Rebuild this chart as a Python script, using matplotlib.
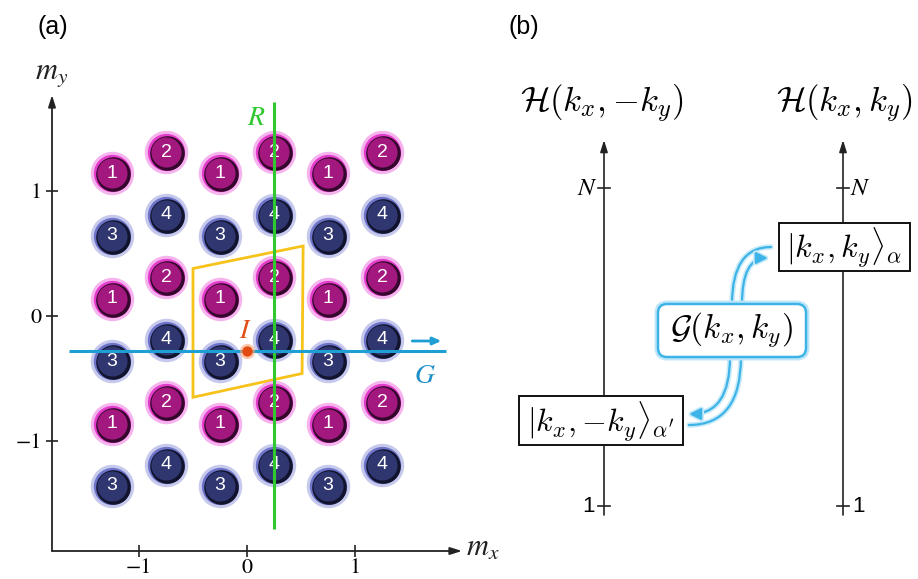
import matplotlib
matplotlib.use('Agg')
import matplotlib.pyplot as plt
from matplotlib.patches import Polygon, FancyBboxPatch, Rectangle, FancyArrowPatch
from matplotlib.transforms import offset_copy
import matplotlib.patheffects as pe

# ---------------- Panel (a) data ----------------
site_labels = ['1', '2', '3', '4']
site_x = [-0.25, 0.25, -0.25, 0.25]
site_y = [0.14, 0.31, -0.36, -0.19]
site_kind = ['m', 'm', 'b', 'b']
cell_shift_x = [-1, 0, 1]
cell_shift_y = [-1, 0, 1]
ticks_a = [-1, 0, 1]
tick_labels_a = ['\u22121', '0', '1']
unit_cell_x = [-0.5, 0.52, 0.51, -0.5]
unit_cell_y = [0.38, 0.56, -0.46, -0.65]
mirror_x = 0.25
mirror_y_range = [-1.70, 1.71]
glide_y = -0.28
glide_x_range = [-1.65, 1.84]
glide_arrow_x = [1.53, 1.80]
glide_arrow_y = -0.20
inv_point = [0.0, -0.28]

# ---------------- Panel (b) texts ----------------
title_left = r'$\mathcal{H}(k_x,{-}k_y)$'
title_right = r'$\mathcal{H}(k_x,k_y)$'
state_right = r'$|k_x,k_y\rangle_{\alpha}$'
state_left = r"$|k_x,{-}k_y\rangle_{\alpha'}$"
op_label = r'$\mathcal{G}(k_x,k_y)$'
level_labels = ['N', '1']

W, H = 918, 579
fig = plt.figure(figsize=(W / 100, H / 100), dpi=100)

# ---- axes (a) placement in pixels
px0, px1 = 52, 470
py0, py1 = 551, 80
x0_px, xs = 247, 108.0
y0_px, ys = 316, 125.0
ax = fig.add_axes([px0 / W, (H - py0) / H, (px1 - px0) / W, (py0 - py1) / H])
ax.set_xlim((px0 - x0_px) / xs, (px1 - x0_px) / xs)
ax.set_ylim((y0_px - py0) / ys, (y0_px - py1) / ys)
for s in ax.spines.values():
    s.set_visible(False)
ax.patch.set_alpha(0)
ax.set_xticks(ticks_a)
ax.set_yticks(ticks_a)
ax.set_xticklabels(tick_labels_a, fontfamily='STIXGeneral', fontsize=16)
ax.set_yticklabels(tick_labels_a, fontfamily='STIXGeneral', fontsize=16)
ax.tick_params(direction='inout', length=9, width=1.2, color='#222222', pad=3)
ax.tick_params(axis='x', pad=0.5)

# axis arrows
arrow_kw = dict(arrowstyle='-|>,head_length=0.7,head_width=0.22', lw=1.3, color='#222222',
                shrinkA=0, shrinkB=0)
ax.annotate('', xy=(0, (py0 - 95) / (py0 - py1)), xytext=(0, 0), xycoords='axes fraction',
            arrowprops=arrow_kw)
ax.annotate('', xy=((462 - px0) / (px1 - px0), 0), xytext=(0, 0), xycoords='axes fraction',
            arrowprops=arrow_kw)
ax.text(0, (py0 - 74) / (py0 - py1), r'$m_y$', transform=ax.transAxes, ha='center', va='center',
        fontsize=22, math_fontfamily='stix', color='#222222')
fig.text(483 / W, 1 - 548 / H, r'$m_x$', ha='center', va='center', fontsize=22,
         math_fontfamily='stix', color='#222222')

# unit cell (yellow)
ax.add_patch(Polygon(list(zip(unit_cell_x, unit_cell_y)), closed=True, fill=False,
                     edgecolor='#f7c31a', lw=2.0, zorder=1))

# lattice sites
styles = {
    'm': dict(glow='#f49be9', rim='#e43ccb', dark='#34072c', body='#a3187f'),
    'b': dict(glow='#b3b8e6', rim='#6c73c9', dark='#12142e', body='#2f3670'),
}
dark_trans = offset_copy(ax.transData, fig=fig, x=1.0, y=-1.0, units='dots')
for lab, sx, sy, kind in zip(site_labels, site_x, site_y, site_kind):
    xs_ = [sx + cx for cx in cell_shift_x for cy in cell_shift_y]
    ys_ = [sy + cy for cx in cell_shift_x for cy in cell_shift_y]
    st = styles[kind]
    ax.scatter(xs_, ys_, s=980, c=st['glow'], alpha=0.75, lw=0, zorder=2)
    ax.scatter(xs_, ys_, s=720, c=st['rim'], lw=0, zorder=3)
    ax.scatter(xs_, ys_, s=620, c=st['dark'], lw=0, zorder=4, transform=dark_trans)
    ax.scatter(xs_, ys_, s=470, c=st['body'], lw=0, zorder=5)
    for x, y in zip(xs_, ys_):
        ax.text(x, y, lab, ha='center', va='center', color='white', fontsize=14,
                fontfamily='Liberation Sans', zorder=6)

# mirror line R (green)
ax.plot([mirror_x, mirror_x], mirror_y_range, color='#2fc82f', lw=2.2, zorder=7,
        solid_capstyle='butt')
ax.text(0.09, 1.59, r'$R$', color='#2fc82f', fontsize=20, math_fontfamily='stix',
        ha='center', va='center', zorder=7)
# glide line G (blue)
ax.plot(glide_x_range, [glide_y, glide_y], color='#1e9fd4', lw=2.2, zorder=7,
        solid_capstyle='butt')
ax.annotate('', xy=(glide_arrow_x[1], glide_arrow_y), xytext=(glide_arrow_x[0], glide_arrow_y),
            arrowprops=dict(arrowstyle='-|>,head_length=0.5,head_width=0.22', lw=2.0,
                            color='#1e9fd4', shrinkA=0, shrinkB=0), zorder=7)
ax.text(1.65, -0.47, r'$G$', color='#1e8fc8', fontsize=20, math_fontfamily='stix',
        ha='center', va='center', zorder=7)
# inversion point I
ax.scatter([inv_point[0]], [inv_point[1]], s=120, c='#f9a070', alpha=0.6, lw=0, zorder=8)
ax.scatter([inv_point[0]], [inv_point[1]], s=55, c='#e24a12', lw=0, zorder=9)
ax.text(-0.01, -0.11, r'$I$', color='#e2501a', fontsize=20, math_fontfamily='stix',
        ha='center', va='center', zorder=9)

fig.text(53 / W, 1 - 27 / H, '(a)', fontsize=18, fontfamily='Liberation Sans', ha='center',
         va='center')
fig.text(524 / W, 1 - 27 / H, '(b)', fontsize=18, fontfamily='Liberation Sans', ha='center',
         va='center')

# ---------------- Panel (b) ----------------
bx = fig.add_axes([0, 0, 1, 1])
bx.set_xlim(0, W)
bx.set_ylim(H, 0)
bx.axis('off')
bx.patch.set_alpha(0)

axis_x = [604, 843]
axis_bottom, axis_top = 515, 140
tick_y = [188, 506]
for i, xa in enumerate(axis_x):
    bx.annotate('', xy=(xa, axis_top), xytext=(xa, axis_bottom),
                arrowprops=dict(arrowstyle='-|>,head_length=0.7,head_width=0.22', lw=1.2,
                                color='#222222', shrinkA=0, shrinkB=0), zorder=1)
    for ty, lab in zip(tick_y, level_labels):
        bx.plot([xa - 6, xa + 6], [ty, ty], color='#222222', lw=1.2, zorder=1)
        side = -1 if i == 0 else 1
        if lab == 'N':
            bx.text(xa + side * 17, ty, r'$N$', fontsize=18, math_fontfamily='stix',
                    ha='center', va='center')
        else:
            bx.text(xa + side * 15, ty + 1, lab, fontsize=16, fontfamily='Liberation Sans',
                    ha='center', va='center')

bx.text(602, 104, title_left, fontsize=25, math_fontfamily='cm', ha='center', va='center')
bx.text(844, 104, title_right, fontsize=25, math_fontfamily='cm', ha='center', va='center')

# state boxes
bx.add_patch(Rectangle((779, 223), 131, 48, facecolor='white', edgecolor='#111111',
                       lw=1.4, zorder=3))
bx.text(844.5, 247, state_right, fontsize=23, math_fontfamily='cm', ha='center', va='center',
        zorder=4)
bx.add_patch(Rectangle((519, 396), 164, 49, facecolor='white', edgecolor='#111111',
                       lw=1.4, zorder=3))
bx.text(601, 421, state_left, fontsize=23, math_fontfamily='cm', ha='center', va='center',
        zorder=4)

# operator box
blue = '#3db3e8'
gbox = FancyBboxPatch((658, 304), 148, 53, boxstyle='round,pad=0,rounding_size=9',
                      facecolor='white', edgecolor=blue, lw=1.8, zorder=3,
                      path_effects=[pe.Stroke(linewidth=5, foreground='#bfe6f8'), pe.Normal()])
bx.add_patch(gbox)
bx.text(732, 330, op_label, fontsize=24, math_fontfamily='cm', ha='center', va='center', zorder=4)

# double curved arrows
glow = [pe.Stroke(linewidth=4, foreground='#c8ebfa'), pe.Normal()]
curves = [
    ((732, 304), (771, 247), '-'),
    ((742, 304), (768, 258), '-|>,head_length=0.5,head_width=0.25'),
    ((730, 357), (689, 414), '-|>,head_length=0.5,head_width=0.25'),
    ((741, 357), (689, 425), '-'),
]
for (x1, y1), (x2, y2), style in curves:
    arr = FancyArrowPatch((x1, y1), (x2, y2), arrowstyle=style, mutation_scale=14,
                          connectionstyle='angle3,angleA=90,angleB=0', color=blue, lw=1.6,
                          shrinkA=0, shrinkB=0, zorder=2, path_effects=glow)
    bx.add_patch(arr)

fig.savefig('out.png', dpi=100)
